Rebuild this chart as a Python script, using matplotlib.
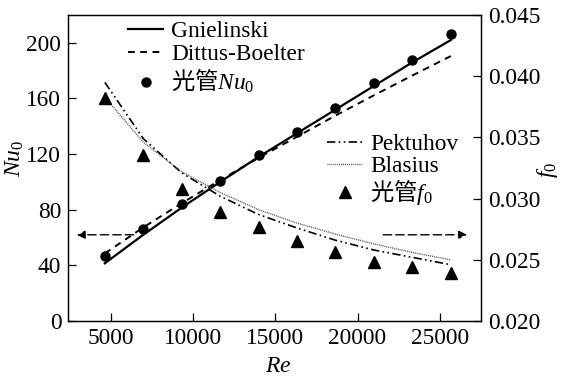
import matplotlib
matplotlib.use('Agg')
import matplotlib.pyplot as plt

plt.rcParams['font.family'] = ['Liberation Serif', 'Noto Sans CJK SC']
plt.rcParams['mathtext.fontset'] = 'custom'
plt.rcParams['mathtext.rm'] = 'Liberation Serif'
plt.rcParams['mathtext.it'] = 'Liberation Serif:italic'
plt.rcParams['mathtext.sf'] = 'Noto Sans CJK SC'
plt.rcParams['font.size'] = 16.8

# ---- data ----
Re = [4650, 6985, 9320, 11655, 13990, 16325, 18660, 20995, 23330, 25665]
Nu_exp = [47, 66, 84, 101, 119, 136, 153, 171, 188, 206]
Nu_gnielinski = [41.5, 62, 81.5, 100, 118, 135, 152, 169, 186, 202]
Nu_dittus = [48.6, 67.3, 84.7, 101.3, 117.3, 132.5, 147.7, 162.3, 176.5, 190.5]
f_exp = [0.0382, 0.0336, 0.0308, 0.0289, 0.0277, 0.0265, 0.0256, 0.0248, 0.0244, 0.0239]
f_pektuhov = [0.0395, 0.0349, 0.0321, 0.0302, 0.0287, 0.0276, 0.0266, 0.0258, 0.0252, 0.0246]
f_blasius = [0.0383, 0.0346, 0.0322, 0.0305, 0.0291, 0.0280, 0.0271, 0.0263, 0.0256, 0.0250]

x_ticks = [5000, 10000, 15000, 20000, 25000]
nu_ticks = [0, 40, 80, 120, 160, 200]
f_ticks = [0.020, 0.025, 0.030, 0.035, 0.040, 0.045]

arrow_left = ((6400, 62), (2950, 62))
arrow_right = ((21560, 62), (26650, 62))

# ---- figure ----
fig = plt.figure(figsize=(5.7, 3.79), dpi=100)
ax = fig.add_axes([0.1198, 0.1530, 0.7241, 0.8074])
ax2 = ax.twinx()

l1, = ax.plot(Re, Nu_gnielinski, color='black', lw=1.6, label='Gnielinski')
l2, = ax.plot(Re, Nu_dittus, color='black', lw=1.4, dashes=(3.5, 2.8), label='Dittus-Boelter')
l3, = ax.plot(Re, Nu_exp, 'o', color='black', ms=6.5,
              label='$\\mathsf{光管}\\mathit{Nu}_{\\mathrm{0}}$')

l4, = ax2.plot(Re, f_pektuhov, color='black', lw=1.2, dashes=(5, 2, 1, 2, 1, 2), label='Pektuhov')
l5, = ax2.plot(Re, f_blasius, color='0.3', lw=1.0, dashes=(0.7, 0.7), label='Blasius')
l6, = ax2.plot(Re, f_exp, '^', color='black', ms=8,
               label='$\\mathsf{光管}\\mathit{f}_{\\mathrm{0}}$')

for (start, end) in (arrow_left, arrow_right):
    ax.annotate('', xy=end, xytext=start,
                arrowprops=dict(arrowstyle='-|>', color='black', lw=1.0,
                                linestyle=(0, (6, 3)), shrinkA=0, shrinkB=0,
                                mutation_scale=12))

ax.set_xlim(2430, 27500)
ax.set_ylim(0, 220)
ax2.set_ylim(0.020, 0.045)
ax.set_xticks(x_ticks)
ax.set_xticklabels([str(v) for v in x_ticks])
ax.set_yticks(nu_ticks)
ax.set_yticklabels([str(v) for v in nu_ticks])
ax2.set_yticks(f_ticks)
ax2.set_yticklabels(['%.3f' % v for v in f_ticks])

for a in (ax, ax2):
    a.tick_params(direction='in', length=6, width=0.9, pad=5)
    for s in a.spines.values():
        s.set_linewidth(0.9)

fig.text(0.0263, 0.583, '$\\mathit{Nu}_{\\mathrm{0}}$', rotation=90, ha='center', va='center', fontsize=17)
fig.text(0.9614, 0.5515, '$\\mathit{f}_{\\mathrm{0}}$', rotation=90, ha='center', va='center', fontsize=17)
fig.text(0.4877, 0.0317, '$\\mathit{Re}$', ha='center', va='center', fontsize=17)

leg1 = ax2.legend(handles=[l1, l2, l3], loc='upper left', bbox_to_anchor=(0.2246, 0.946),
                  bbox_transform=fig.transFigure, frameon=False, borderpad=0,
                  borderaxespad=0, handlelength=1.5, handletextpad=0.35,
                  labelspacing=0.1, numpoints=1)
ax2.add_artist(leg1)
leg2 = ax2.legend(handles=[l4, l5, l6], loc='upper left', bbox_to_anchor=(0.5737, 0.648),
                  bbox_transform=fig.transFigure, frameon=False, borderpad=0,
                  borderaxespad=0, handlelength=1.5, handletextpad=0.35,
                  labelspacing=0.05, numpoints=1)

fig.savefig('out.png', dpi=100)
